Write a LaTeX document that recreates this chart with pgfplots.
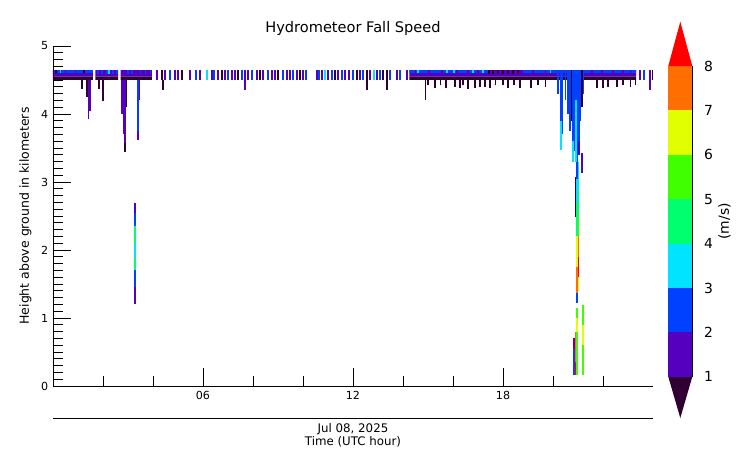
\documentclass[border=0pt]{standalone}
\usepackage{fontspec}
\setmainfont{DejaVu Sans}
\usepackage{pgfplots}
\usepackage{pgfplotstable}
\pgfplotsset{compat=1.18}

% fall speed classes: <1, 1-2, ..., 7-8, >8 m/s
\definecolor{fs0}{RGB}{48,0,51}
\definecolor{fs1}{RGB}{85,0,190}
\definecolor{fs2}{RGB}{0,64,255}
\definecolor{fs3}{RGB}{0,228,255}
\definecolor{fs4}{RGB}{0,255,110}
\definecolor{fs5}{RGB}{64,255,0}
\definecolor{fs6}{RGB}{225,255,0}
\definecolor{fs7}{RGB}{255,110,0}
\definecolor{fs8}{RGB}{255,0,0}

% vertical cells: time (h), bottom and top height (km), speed class
\pgfplotstableread{
t bot top c
0.02 4.50 4.645 0
0.12 4.60 4.645 0
0.30 4.60 4.645 3
0.50 4.60 4.645 1
0.90 4.60 4.645 1
1.25 4.60 4.645 0
1.80 4.585 4.645 2
1.95 4.585 4.645 2
2.15 4.585 4.645 2
2.25 4.585 4.645 3
2.40 4.585 4.645 2
2.55 4.585 4.645 2
3.00 4.585 4.645 2
3.15 4.585 4.645 2
3.50 4.585 4.645 2
3.70 4.585 4.645 2
3.90 4.585 4.645 2
1.16 4.37 4.50 0
1.36 4.25 4.50 0
1.42 3.92 4.50 1
1.48 4.05 4.50 1
1.84 4.37 4.50 0
2.00 4.19 4.50 0
2.76 4.00 4.50 1
2.82 3.70 4.50 1
2.88 3.58 4.50 1
2.88 3.44 3.58 0
2.94 4.10 4.50 0
3.40 3.75 4.50 2
3.40 3.62 3.75 1
3.44 4.20 4.50 1
3.28 2.55 2.69 1
3.28 2.35 2.55 2
3.28 2.10 2.35 4
3.28 1.90 2.10 3
3.28 1.70 1.90 4
3.28 1.45 1.70 2
3.28 1.20 1.45 1
4.16 4.50 4.645 1
4.36 4.50 4.645 0
4.40 4.35 4.50 0
4.48 4.50 4.645 1
4.68 4.50 4.645 2
4.88 4.50 4.645 1
5.00 4.50 4.645 1
5.16 4.50 4.645 0
5.48 4.50 4.645 1
5.72 4.50 4.645 2
5.88 4.50 4.645 1
6.16 4.50 4.645 3
6.36 4.50 4.645 1
6.44 4.50 4.645 2
6.60 4.50 4.645 1
6.76 4.50 4.645 0
6.88 4.50 4.645 1
7.00 4.50 4.645 2
7.16 4.50 4.645 1
7.28 4.50 4.645 1
7.40 4.50 4.645 0
7.56 4.50 4.645 2
7.68 4.35 4.645 1
7.80 4.50 4.645 1
7.96 4.50 4.645 2
8.16 4.50 4.645 1
8.28 4.50 4.645 0
8.40 4.50 4.645 1
8.60 4.50 4.645 2
8.76 4.50 4.645 1
8.88 4.50 4.645 1
9.00 4.50 4.645 0
9.20 4.50 4.645 2
9.36 4.50 4.645 1
9.48 4.50 4.645 1
9.60 4.50 4.645 2
9.76 4.50 4.645 1
9.88 4.50 4.645 0
10.00 4.50 4.645 1
10.12 4.50 4.645 2
10.56 4.50 4.645 1
10.64 4.50 4.645 2
10.76 4.50 4.645 1
10.88 4.50 4.645 3
11.00 4.50 4.645 1
11.16 4.50 4.645 2
11.28 4.50 4.645 0
11.40 4.50 4.645 1
11.56 4.50 4.645 2
11.68 4.50 4.645 1
11.84 4.50 4.645 1
12.00 4.50 4.645 2
12.16 4.50 4.645 0
12.28 4.50 4.645 1
12.40 4.50 4.645 2
12.56 4.35 4.645 0
12.68 4.50 4.645 1
12.84 4.50 4.645 3
12.96 4.50 4.645 1
13.08 4.50 4.645 2
13.20 4.50 4.645 0
13.36 4.35 4.645 0
13.48 4.50 4.645 2
13.76 4.50 4.645 1
13.88 4.50 4.645 2
14.16 4.50 4.645 1
14.50 4.60 4.645 1
14.60 4.60 4.645 3
15.05 4.60 4.645 1
15.55 4.60 4.645 1
15.75 4.60 4.645 3
16.05 4.60 4.645 3
16.15 4.60 4.645 1
16.60 4.60 4.645 1
16.80 4.60 4.645 3
17.00 4.60 4.645 1
17.20 4.60 4.645 3
17.45 4.595 4.645 0
17.60 4.595 4.645 0
17.80 4.595 4.645 0
18.00 4.595 4.645 0
18.20 4.595 4.645 0
18.40 4.595 4.645 0
18.60 4.595 4.645 0
19.20 4.60 4.645 1
19.70 4.60 4.645 1
19.90 4.60 4.645 3
21.55 4.60 4.645 1
21.95 4.60 4.645 1
22.40 4.60 4.645 1
22.80 4.60 4.645 1
23.10 4.60 4.645 1
23.48 4.50 4.645 1
23.64 4.50 4.645 2
23.88 4.35 4.645 1
23.98 4.50 4.645 0
14.90 4.20 4.50 0
15.00 4.42 4.50 0
15.28 4.38 4.50 0
15.50 4.42 4.50 0
15.72 4.38 4.50 0
16.08 4.40 4.50 0
16.28 4.38 4.50 0
16.40 4.43 4.50 0
16.60 4.37 4.50 0
16.88 4.38 4.50 0
17.08 4.40 4.50 0
17.28 4.40 4.50 0
17.48 4.38 4.50 0
17.70 4.42 4.50 0
18.00 4.43 4.50 0
18.20 4.38 4.50 0
18.45 4.42 4.50 0
18.68 4.38 4.50 0
19.12 4.38 4.50 0
19.40 4.42 4.50 0
19.70 4.40 4.50 0
21.76 4.38 4.50 0
22.00 4.38 4.50 0
22.20 4.40 4.50 0
22.56 4.40 4.50 0
22.80 4.42 4.50 0
23.10 4.40 4.50 0
23.30 4.42 4.50 0
20.20 4.30 4.645 2
20.32 3.90 4.645 2
20.32 3.47 3.90 3
20.38 3.70 4.645 2
20.50 4.20 4.645 2
20.60 4.00 4.645 2
20.67 3.75 4.645 2
20.74 3.90 4.645 0
20.80 3.60 4.645 2
20.80 3.30 3.60 3
20.86 3.45 4.645 2
20.92 4.20 4.645 2
20.92 3.30 4.20 3
20.98 3.20 4.645 2
21.04 3.60 4.645 2
21.04 3.40 3.60 1
21.10 3.90 4.645 2
21.16 4.10 4.645 0
21.16 3.13 3.43 1
21.22 4.30 4.645 2
20.90 2.48 3.07 0
20.96 3.05 3.30 2
20.96 2.70 3.05 3
20.96 2.20 2.70 4
20.96 1.75 2.20 6
20.96 1.37 1.75 7
20.96 1.22 1.37 2
21.02 2.90 3.30 3
21.02 2.50 2.90 4
21.02 2.20 2.50 5
21.02 1.90 2.20 7
21.02 1.60 1.90 8
21.02 1.40 1.60 6
20.85 0.16 0.55 2
20.85 0.55 0.70 1
20.90 0.16 0.80 7
20.90 0.16 0.35 8
20.95 0.16 1.15 5
20.95 0.80 1.00 6
21.20 0.16 1.19 5
21.20 0.60 0.90 6
}\cells

\begin{document}
\begin{tikzpicture}
\begin{axis}[
  name=main,
  at={(0,0)}, anchor=south west,
  scale only axis, width=432pt, height=244.8pt,
  xmin=0, xmax=24, ymin=0, ymax=5,
  axis x line*=bottom, axis y line*=left,
  every outer x axis line/.append style={-},
  every outer y axis line/.append style={-},
  axis line style={-, line width=0.6pt},
  xtick={6,12,18}, xticklabels={06,12,18},
  minor xtick={2,4,8,10,14,16,20,22},
  ytick={0,...,5}, minor y tick num=9,
  tick align=inside,
  major tick length=13pt, minor tick length=7pt,
  tick style={black, line width=0.6pt},
  tick label style={font=\fontsize{8}{9.6}\selectfont},
  /pgf/number format/assume math mode=true,
  title={Hydrometeor Fall Speed},
  title style={font=\fontsize{10.5}{12}\selectfont, yshift=-1.7pt},
  ylabel={Height above ground in kilometers},
  ylabel style={font=\fontsize{9}{11}\selectfont},
  xlabel={Jul 08, 2025\\Time (UTC hour)},
  xlabel style={at={(axis description cs:0.5,0)}, anchor=north, yshift=-23.5pt,
    align=center, font=\fontsize{8.5}{9.4}\selectfont},
]
\addplot[draw=none, fill=fs0, unbounded coords=jump] coordinates {
  (0,4.50) (1.6,4.50) (1.6,4.555) (0,4.555) (nan,nan)
  (1.7,4.50) (2.6,4.50) (2.6,4.555) (1.7,4.555) (nan,nan)
  (2.7,4.50) (3.95,4.50) (3.95,4.555) (2.7,4.555) (nan,nan)
  (14.25,4.50) (23.32,4.50) (23.32,4.555) (14.25,4.555)
};
\addplot[draw=none, fill=fs1, unbounded coords=jump] coordinates {
  (0,4.555) (1.6,4.555) (1.6,4.645) (0,4.645) (nan,nan)
  (1.7,4.555) (2.6,4.555) (2.6,4.645) (1.7,4.645) (nan,nan)
  (2.7,4.555) (3.95,4.555) (3.95,4.645) (2.7,4.645) (nan,nan)
  (14.25,4.555) (23.32,4.555) (23.32,4.645) (14.25,4.645)
};
\addplot[draw=none, fill=fs2, unbounded coords=jump] coordinates {
  (0,4.60) (1.6,4.60) (1.6,4.645) (0,4.645) (nan,nan)
  (14.25,4.60) (17.4,4.60) (17.4,4.645) (14.25,4.645) (nan,nan)
  (18.8,4.60) (23.32,4.60) (23.32,4.645) (18.8,4.645)
};
\pgfplotsinvokeforeach{0,...,8}{
  \addplot[draw=fs#1, line width=1.2pt, mark=none,
    quiver={u=0, v={\thisrow{top}-\thisrow{bot}}},
    x filter/.expression={\thisrow{c}==#1 ? x : nan},
  ] table[x=t, y=bot] {\cells};
}
\end{axis}
\draw[line width=0.6pt] (0,-23pt) -- (432pt,-23pt);

\begin{axis}[
  at={(443pt,-25.3pt)}, anchor=south west,
  scale only axis, width=17.3pt, height=287.6pt,
  xmin=0, xmax=1, ymin=0, ymax=9,
  axis line style={draw=none},
  xtick=\empty, ytick={1,...,8},
  yticklabel pos=right,
  major tick length=0pt, tick style={draw=none},
  /pgf/number format/assume math mode=true,
  yticklabel style={font=\fontsize{10}{12}\selectfont, xshift=5pt},
  ylabel={(m/s)}, ylabel style={font=\fontsize{10}{12}\selectfont},
  ylabel shift=-3pt,
  clip=false,
]
\addplot[draw=none, fill=fs0] coordinates {(0,1) (1,1) (0.5,0.07)} -- cycle;
\addplot[draw=none, fill=fs1] coordinates {(0,1) (1,1) (1,2) (0,2)} -- cycle;
\addplot[draw=none, fill=fs2] coordinates {(0,2) (1,2) (1,3) (0,3)} -- cycle;
\addplot[draw=none, fill=fs3] coordinates {(0,3) (1,3) (1,4) (0,4)} -- cycle;
\addplot[draw=none, fill=fs4] coordinates {(0,4) (1,4) (1,5) (0,5)} -- cycle;
\addplot[draw=none, fill=fs5] coordinates {(0,5) (1,5) (1,6) (0,6)} -- cycle;
\addplot[draw=none, fill=fs6] coordinates {(0,6) (1,6) (1,7) (0,7)} -- cycle;
\addplot[draw=none, fill=fs7] coordinates {(0,7) (1,7) (1,8) (0,8)} -- cycle;
\addplot[draw=none, fill=fs8] coordinates {(0,8) (1,8) (0.5,9)} -- cycle;
\addplot[black, line width=0.6pt] coordinates {(1,1) (1,8)};
\end{axis}
\path (-38.16pt,-58.32pt) rectangle (504.72pt,277.92pt);
\end{tikzpicture}
\end{document}
